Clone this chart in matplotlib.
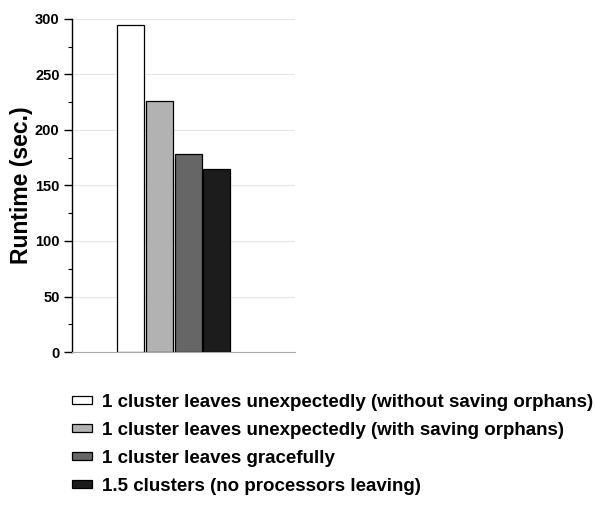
import matplotlib.pyplot as plt
from matplotlib.ticker import MultipleLocator

plt.rcParams['font.family'] = ['Liberation Sans', 'DejaVu Sans']
plt.rcParams['font.weight'] = 'bold'

scenarios = ['1 cluster leaves unexpectedly (without saving orphans)',
             '1 cluster leaves unexpectedly (with saving orphans)',
             '1 cluster leaves gracefully',
             '1.5 clusters (no processors leaving)']
runtimes = [295, 226, 178, 165]
colors = ['#ffffff', '#b2b2b2', '#666666', '#1c1c1c']

fig = plt.figure(figsize=(5.95, 5.17), dpi=100)
ax = fig.add_axes([72 / 595, 1 - 352 / 517, 223 / 595, 333 / 517])

for i, (name, val, c) in enumerate(zip(scenarios, runtimes, colors)):
    ax.bar(i, val, width=0.94, color=c, edgecolor='black', linewidth=0.9,
           label=name, zorder=3)

ax.set_xlim(-2.03, 5.71)
ax.set_ylim(0, 300)
ax.yaxis.set_major_locator(MultipleLocator(50))
ax.yaxis.set_minor_locator(MultipleLocator(25))
ax.grid(axis='y', color='#e6e6e6', linewidth=0.8, zorder=0)
ax.set_xticks([])
ax.tick_params(axis='y', which='major', length=6, width=1, labelsize=10.5, pad=3)
ax.tick_params(axis='y', which='minor', length=3, width=0.8)
for lbl in ax.get_yticklabels():
    lbl.set_fontweight('bold')
for s in ['top', 'right']:
    ax.spines[s].set_visible(False)
ax.spines['bottom'].set_color('#aaaaaa')
ax.spines['left'].set_linewidth(1)
ax.set_ylabel('Runtime (sec.)', fontsize=16.5, fontweight='bold', labelpad=1)

fig.legend(loc='upper left', bbox_to_anchor=(72 / 595, 1 - 394 / 517),
           frameon=False, fontsize=13.5, handlelength=1.07, handleheight=0.28,
           handletextpad=0.53, labelspacing=0.58, borderaxespad=0, borderpad=0)

fig.savefig('out.png', dpi=100)
